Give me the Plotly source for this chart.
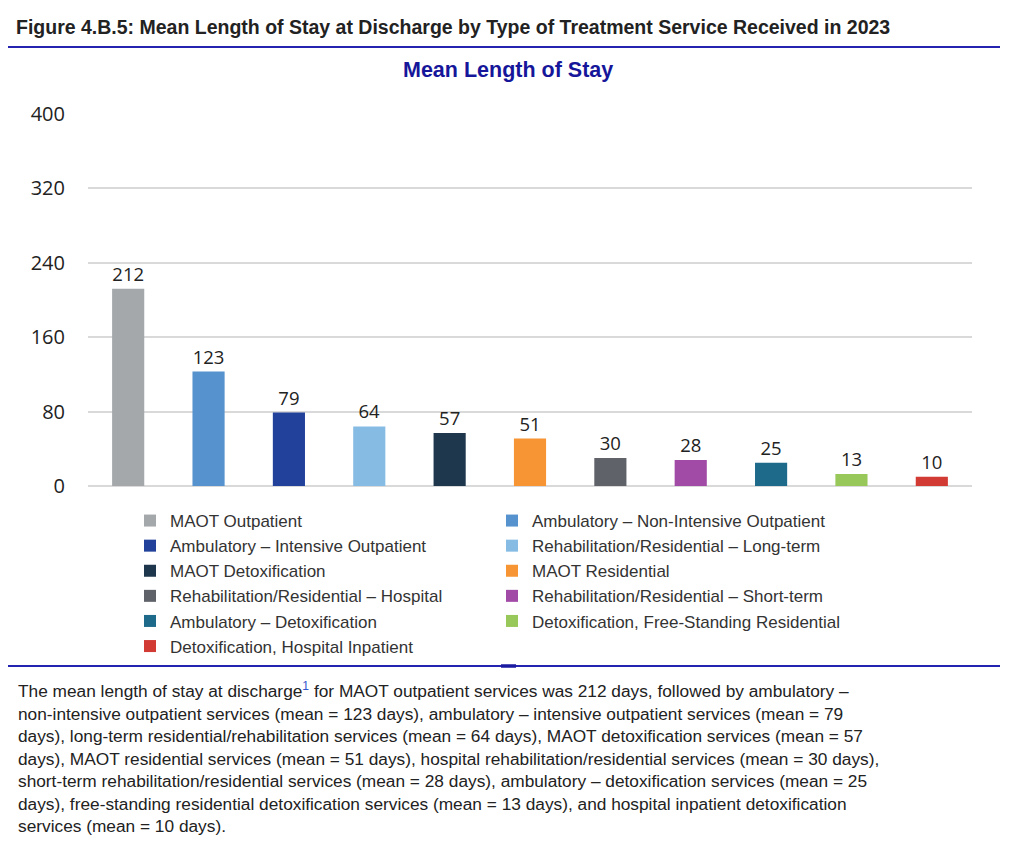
import plotly.graph_objects as go

categories = [
    "MAOT Outpatient",
    "Ambulatory – Non-Intensive Outpatient",
    "Ambulatory – Intensive Outpatient",
    "Rehabilitation/Residential – Long-term",
    "MAOT Detoxification",
    "MAOT Residential",
    "Rehabilitation/Residential – Hospital",
    "Rehabilitation/Residential – Short-term",
    "Ambulatory – Detoxification",
    "Detoxification, Free-Standing Residential",
    "Detoxification, Hospital Inpatient",
]
mean_days = [212, 123, 79, 64, 57, 51, 30, 28, 25, 13, 10]
colors = ["#A5A8AB", "#5592CE", "#22419A", "#86BCE3", "#1F374D", "#F79433",
          "#5F6369", "#A14AA6", "#1D6A8A", "#98C85A", "#D23A34"]
y_ticks = [0, 80, 160, 240, 320, 400]

title_text = "Figure 4.B.5: Mean Length of Stay at Discharge by Type of Treatment Service Received in 2023"
subtitle_text = "Mean Length of Stay"
paragraph_lines = [
    "The mean length of stay at discharge<sup><span style='color:#3355cc'>1</span></sup> for MAOT outpatient services was 212 days, followed by ambulatory –",
    "non-intensive outpatient services (mean = 123 days), ambulatory – intensive outpatient services (mean = 79",
    "days), long-term residential/rehabilitation services (mean = 64 days), MAOT detoxification services (mean = 57",
    "days), MAOT residential services (mean = 51 days), hospital rehabilitation/residential services (mean = 30 days),",
    "short-term rehabilitation/residential services (mean = 28 days), ambulatory – detoxification services (mean = 25",
    "days), free-standing residential detoxification services (mean = 13 days), and hospital inpatient detoxification",
    "services (mean = 10 days).",
]

# page has an 8px body margin; work in figure coordinates
OFF = 8
W, H = 1024 - OFF, 854 - OFF
L, R, T, B = 80, 52, 106, 368
pw = W - L - R
ph = H - T - B


def px(x):
    return (x - L) / pw


def py(y):
    return (H - B - y) / ph


fig = go.Figure()
for cat, val, col in zip(categories, mean_days, colors):
    fig.add_trace(go.Bar(
        x=[cat], y=[val], name=cat, marker=dict(color=col, line=dict(width=0)),
        text=[str(val)], textposition="outside", cliponaxis=False,
        textfont=dict(family="Open Sans, Noto Sans, sans-serif", size=18.5, color="#222222"),
        showlegend=True,
    ))

line_col = "#2424b0"
shapes = [
    dict(type="line", xref="paper", yref="paper", x0=px(0), x1=px(992),
         y0=py(39), y1=py(39), line=dict(color=line_col, width=2.2)),
    dict(type="line", xref="paper", yref="paper", x0=px(0), x1=px(992),
         y0=py(658), y1=py(658), line=dict(color=line_col, width=2.2)),
    dict(type="line", xref="paper", yref="paper", x0=px(493), x1=px(508),
         y0=py(658), y1=py(658), line=dict(color="#1a1aa0", width=3.5)),
]

annotations = [
    dict(text="<b>" + title_text + "</b>", xref="paper", yref="paper",
         x=px(6), y=py(19), xanchor="left", yanchor="middle", showarrow=False,
         font=dict(family="Liberation Sans, Arial, sans-serif", size=19.5, color="#222222")),
    dict(text="<b>" + subtitle_text + "</b>", xref="paper", yref="paper",
         x=px(500), y=py(62), xanchor="center", yanchor="middle", showarrow=False,
         font=dict(family="Liberation Sans, Arial, sans-serif", size=21.5, color="#16169a")),
    dict(text="<br>".join(paragraph_lines), xref="paper", yref="paper",
         x=px(8), y=py(669), xanchor="left", yanchor="top", align="left",
         showarrow=False,
         font=dict(family="Liberation Sans, Arial, sans-serif", size=17.3, color="#222222")),
]

fig.update_layout(
    width=W, height=H,
    margin=dict(l=L, r=R, t=T, b=B, pad=0),
    paper_bgcolor="white", plot_bgcolor="white",
    barmode="overlay", bargap=0.6,
    showlegend=True,
    legend=dict(orientation="h", x=px(122), y=py(495), xanchor="left", yanchor="top",
                entrywidth=317, entrywidthmode="pixels", traceorder="normal",
                bgcolor="rgba(0,0,0,0)",
                font=dict(family="Liberation Sans, Arial, sans-serif", size=17, color="#333333"),
                itemwidth=30, tracegroupgap=0),
    xaxis=dict(showticklabels=False, showgrid=False, zeroline=False, showline=False,
               categoryorder="array", categoryarray=categories),
    yaxis=dict(range=[0, 400], tickvals=y_ticks, showgrid=True, gridcolor="#d9d9d9", gridwidth=2,
               zeroline=True, zerolinecolor="#d9d9d9", zerolinewidth=2, showline=False,
               ticks="", ticklen=0, ticklabelstandoff=22,
               tickfont=dict(family="Open Sans, Noto Sans, sans-serif", size=20, color="#222222")),
    shapes=shapes, annotations=annotations,
)

fig.write_html("out.html")
